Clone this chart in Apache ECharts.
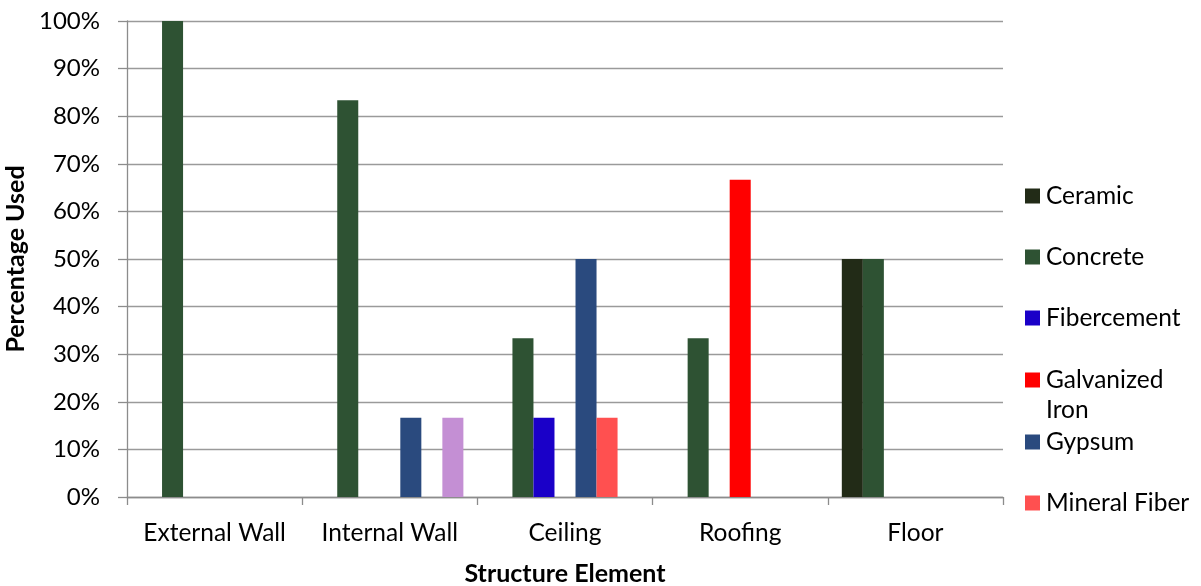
<!DOCTYPE html>
<html>
<head>
<meta charset="utf-8">
<script src="https://cdn.jsdelivr.net/npm/echarts@6/dist/echarts.min.js"></script>
<style>
  html, body { margin: 0; padding: 0; background: #fff; }
  #chart { width: 1201px; height: 586px; }
</style>
</head>
<body>
<div id="chart"></div>
<script>
// Share of each material used per structure element (fractions of 1)
const categories = ['External Wall', 'Internal Wall', 'Ceiling', 'Roofing', 'Floor'];
const ceramic        = [0,      0,      0,      0,      0.5];
const concrete       = [1.0,    0.8333, 0.3333, 0.3333, 0.5];
const fibercement    = [0,      0,      0.1667, 0,      0];
const galvanizedIron = [0,      0,      0,      0.6667, 0];
const gypsum         = [0,      0.1667, 0.5,    0,      0];
const mineralFiber   = [0,      0,      0.1667, 0,      0];
const other          = [0,      0.1667, 0,      0,      0];
const yTicks = [0, 0.1, 0.2, 0.3, 0.4, 0.5, 0.6, 0.7, 0.8, 0.9, 1.0];

const FONT = 'Lato';
const seriesDefs = [
  { name: 'Ceramic',         data: ceramic,        color: '#222b17' },
  { name: 'Concrete',        data: concrete,       color: '#2e5233' },
  { name: 'Fibercement',     data: fibercement,    color: '#1a00c8' },
  { name: 'Galvanized Iron', data: galvanizedIron, color: '#ff0000' },
  { name: 'Gypsum',          data: gypsum,         color: '#2a4a7e' },
  { name: 'Mineral Fiber',   data: mineralFiber,   color: '#ff5050' },
  { name: 'Other',           data: other,          color: '#c48fd4' }
];

// one legend block per entry so the markers sit on an even pitch;
// a block's top edge is set by its text box (30px per line, centred on the marker)
const legendCenters = [196, 257, 318, 380, 442, 503];
const legends = seriesDefs.slice(0, 6).map((s, i) => {
  const twoLine = s.name === 'Galvanized Iron';
  return {
    orient: 'vertical',
    left: 1025,
    top: legendCenters[i] - (twoLine ? 45 : 15),
    padding: 0,
    data: [s.name],
    itemWidth: 15,
    itemHeight: 15,
    itemGap: 0,
    icon: 'rect',
    selectedMode: false,
    // the two-line label keeps its first line level with the marker
    formatter: twoLine ? ' \nGalvanized\nIron' : '{name}',
    textStyle: { fontFamily: FONT, fontSize: 24.5, color: '#000', lineHeight: 30, padding: [0, 0, 0, 1] }
  };
});

const chart = echarts.init(document.getElementById('chart'), null, { renderer: 'canvas' });
chart.setOption({
  animation: false,
  backgroundColor: '#fff',
  legend: legends,
  grid: { left: 127, right: 198, top: 21, bottom: 89, containLabel: false, outerBoundsMode: 'none' },
  xAxis: {
    type: 'category',
    data: categories,
    name: 'Structure Element',
    nameLocation: 'middle',
    nameGap: 64,
    nameTextStyle: { fontFamily: FONT, fontSize: 25, fontWeight: 'bold', color: '#000' },
    axisLine: { lineStyle: { color: '#8c8c8c', width: 1.3 } },
    axisTick: { show: true, length: 8, lineStyle: { color: '#8c8c8c', width: 1.3 } },
    axisLabel: { fontFamily: FONT, fontSize: 24.5, color: '#000', margin: 24, interval: 0 }
  },
  yAxis: {
    type: 'value',
    min: 0, max: 1, interval: 0.1,
    name: 'Percentage Used',
    nameLocation: 'middle',
    nameGap: 93,
    nameTextStyle: { fontFamily: FONT, fontSize: 25, fontWeight: 'bold', color: '#000' },
    axisLine: { show: true, lineStyle: { color: '#8c8c8c', width: 1.3 } },
    axisTick: { show: true, length: 9, lineStyle: { color: '#8c8c8c', width: 1.3 } },
    axisLabel: {
      fontFamily: FONT, fontSize: 24, color: '#000', margin: 27,
      formatter: v => Math.round(v * 100) + '%'
    },
    splitLine: { lineStyle: { color: '#9a9a9a', width: 1.4 } }
  },
  series: seriesDefs.map(s => ({
    name: s.name,
    type: 'bar',
    data: s.data,
    barGap: '0%',
    barCategoryGap: '16%',
    itemStyle: { color: s.color }
  }))
});
</script>
</body>
</html>
